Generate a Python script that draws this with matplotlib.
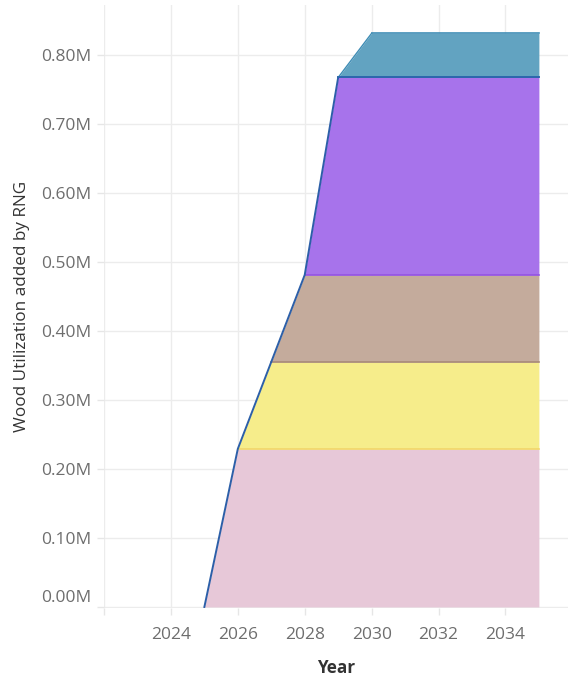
import matplotlib
matplotlib.use('Agg')
import matplotlib.pyplot as plt
import matplotlib.transforms as mtransforms
from matplotlib.ticker import FuncFormatter
import numpy as np

# Data (increment each stream adds, in millions)
years = [2025, 2026, 2027, 2028, 2029, 2030, 2031, 2032, 2033, 2034, 2035]
pink = [0, 0.229, 0.229, 0.229, 0.229, 0.229, 0.229, 0.229, 0.229, 0.229, 0.229]
yellow = [0, 0, 0.126, 0.126, 0.126, 0.126, 0.126, 0.126, 0.126, 0.126, 0.126]
brown = [0, 0, 0, 0.126, 0.126, 0.126, 0.126, 0.126, 0.126, 0.126, 0.126]
purple = [0, 0, 0, 0, 0.286, 0.286, 0.286, 0.286, 0.286, 0.286, 0.286]
teal = [0, 0, 0, 0, 0, 0.064, 0.064, 0.064, 0.064, 0.064, 0.064]

layers = [pink, yellow, brown, purple, teal]
fill_colors = ['#e7c8d8', '#f6ed8b', '#c4ab9c', '#a773eb', '#62a3c1']
line_colors = ['#f2d66a', '#a88a78', '#9453e2', '#2c66ad', '#3f8db5']

plt.rcParams['font.family'] = ['Open Sans', 'DejaVu Sans']

fig = plt.figure(figsize=(5.68, 6.76), dpi=100)
ax = fig.add_axes([104 / 568, 68 / 676, 464 / 568, 603 / 676])

x = np.array(years)
cum = np.cumsum(np.array(layers), axis=0)
base = np.zeros(len(years))
for i, top in enumerate(cum):
    ax.fill_between(x, base, top, color=fill_colors[i], lw=0, zorder=2)
    base = top

# boundary lines between layers (flat parts)
for i in range(len(cum) - 1):
    start = years.index(2026 + i)
    ax.plot(x[start:], cum[i][start:], color=line_colors[i], lw=1.2, zorder=3)
ax.plot(x[5:], cum[4][5:], color=line_colors[4], lw=1.2, zorder=3)
ax.plot(x[4:6], cum[4][4:6], color=line_colors[4], lw=1.0, zorder=3)
# rising outline
ax.plot(x[:5], cum[3][:5], color='#2c5fa8', lw=1.4, zorder=4)
ax.plot(x[4:], cum[3][4:], color='#2c66ad', lw=1.2, zorder=4)

ax.set_xlim(2022, 2035.87)
ax.set_ylim(-0.0015, 0.872)
ax.set_xticks([2022, 2024, 2026, 2028, 2030, 2032, 2034])
ax.set_xticklabels(['', '2024', '2026', '2028', '2030', '2032', '2034'])
ax.set_yticks(np.arange(0, 0.81, 0.1))
ax.yaxis.set_major_formatter(FuncFormatter(lambda v, p: f'{v:.2f}M'))

ax.grid(True, color='#ececec', lw=1.0, zorder=0)
ax.set_axisbelow(True)
for s in ax.spines.values():
    s.set_visible(False)
ax.tick_params(axis='both', colors='#e6e6e6', length=5, width=1,
               labelcolor='#6e6e6e', labelsize=12.5)
ax.tick_params(axis='y', pad=4)
ax.tick_params(axis='x', pad=9)

# shift the zero label up like the original
zero_lbl = ax.get_yticklabels()[0]
zero_lbl.set_transform(zero_lbl.get_transform() +
                       mtransforms.ScaledTranslation(0, 8 / 72, fig.dpi_scale_trans))

ax.set_ylabel('Wood Utilization added by RNG', fontsize=12.3, color='#333333', labelpad=8)
ax.set_xlabel('Year', fontsize=12.3, color='#333333', fontweight='bold', labelpad=11)

fig.savefig('out.png', dpi=100)
